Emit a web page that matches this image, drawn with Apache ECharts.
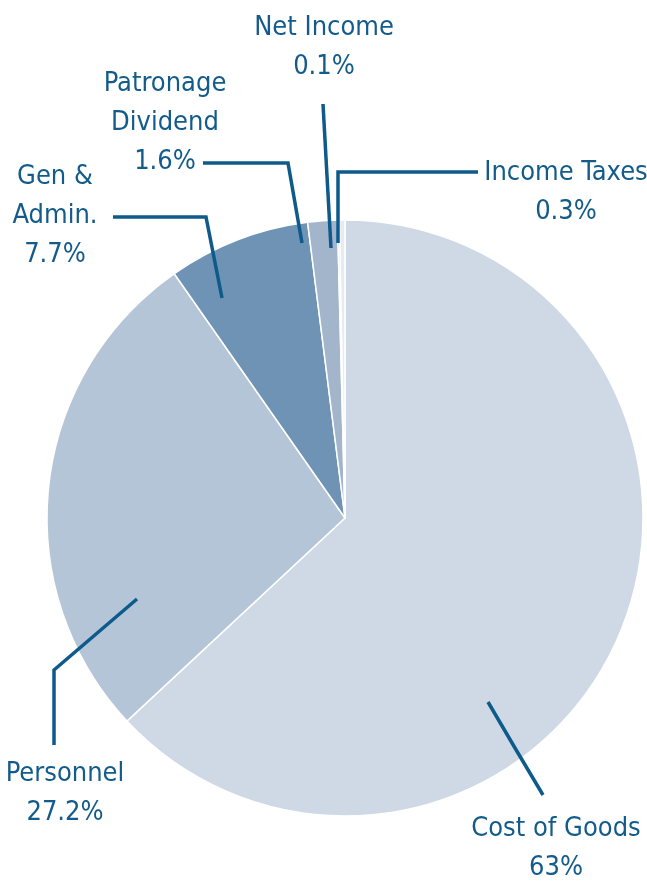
<!DOCTYPE html>
<html>
<head>
<meta charset="utf-8">
<script src="https://cdn.jsdelivr.net/npm/echarts@6/dist/echarts.min.js"></script>
<style>
  html, body { margin: 0; padding: 0; background: #ffffff; }
  #expense_pie_chart { width: 647px; height: 884px; }
</style>
</head>
<body>
<div id="expense_pie_chart"></div>
<script>
    // slice data, clockwise from 12 o'clock
    var category_list = ['Cost of Goods', 'Personnel', 'Gen & Admin.', 'Patronage Dividend', 'Net Income', 'Income Taxes'];
    var label_name_list = ['Cost of Goods', 'Personnel', 'Gen &\nAdmin.', 'Patronage\nDividend', 'Net Income', 'Income Taxes'];
    var share_list = [63, 27.2, 7.7, 1.6, 0.1, 0.3];
    var color_list = ['#cfd9e6', '#b5c5d8', '#6f93b5', '#a2b5cb', '#0e5a8a', '#e6ebf2'];

    // label placement (text block centre) and leader line points, in pixels
    var label_center_list = [[556, 848], [65, 793], [55, 216], [165, 123], [324, 47], [566, 192]];
    var leader_line_list = [
        [[488, 702], [515, 748], [543, 795]],
        [[137, 599], [54, 670], [54, 745]],
        [[222, 298], [206, 217], [113, 217]],
        [[302, 243], [288, 163], [203, 163]],
        [[331, 248], [327, 176], [323, 104]],
        [[338, 243], [338, 172], [478, 172]]
    ];

    var myChart = echarts.init(document.getElementById('expense_pie_chart'), null, {renderer: 'canvas'});

    var pie_data = [];
    var label_data = [];
    for (var i = 0; i < category_list.length; i++) {
        pie_data.push({
            name: category_list[i],
            value: share_list[i],
            itemStyle: {color: color_list[i]}
        });
        label_data.push({
            name: category_list[i],
            value: share_list[i],
            label: {formatter: label_name_list[i] + '\n' + share_list[i] + '%'}
        });
    }

    var option = {
        animation: false,
        backgroundColor: '#ffffff',
        series: [
            {
                // the slices
                type: 'pie',
                z: 2,
                center: [345, 518],
                radius: 298,
                startAngle: 90,
                clockwise: true,
                silent: true,
                itemStyle: {
                    borderColor: '#ffffff',
                    borderWidth: 1.5
                },
                label: {show: false},
                labelLine: {show: false},
                data: pie_data
            },
            {
                // same pie again, invisible, only to carry labels and leader lines on top
                type: 'pie',
                z: 3,
                center: [345, 518],
                radius: 298,
                startAngle: 90,
                clockwise: true,
                silent: true,
                avoidLabelOverlap: false,
                itemStyle: {color: 'rgba(0,0,0,0)', borderWidth: 0},
                label: {
                    show: true,
                    position: 'outside',
                    color: '#135b8b',
                    fontFamily: "'DejaVu Sans Condensed', sans-serif",
                    fontSize: 27,
                    lineHeight: 39,
                    align: 'center'
                },
                labelLine: {
                    show: true,
                    lineStyle: {color: '#0d5a8b', width: 3.5}
                },
                labelLayout: function (params) {
                    var idx = params.dataIndex;
                    return {
                        x: label_center_list[idx][0],
                        y: label_center_list[idx][1],
                        align: 'center',
                        verticalAlign: 'middle',
                        labelLinePoints: leader_line_list[idx]
                    };
                },
                data: label_data
            }
        ]
    };
    myChart.setOption(option);
</script>
</body>
</html>
